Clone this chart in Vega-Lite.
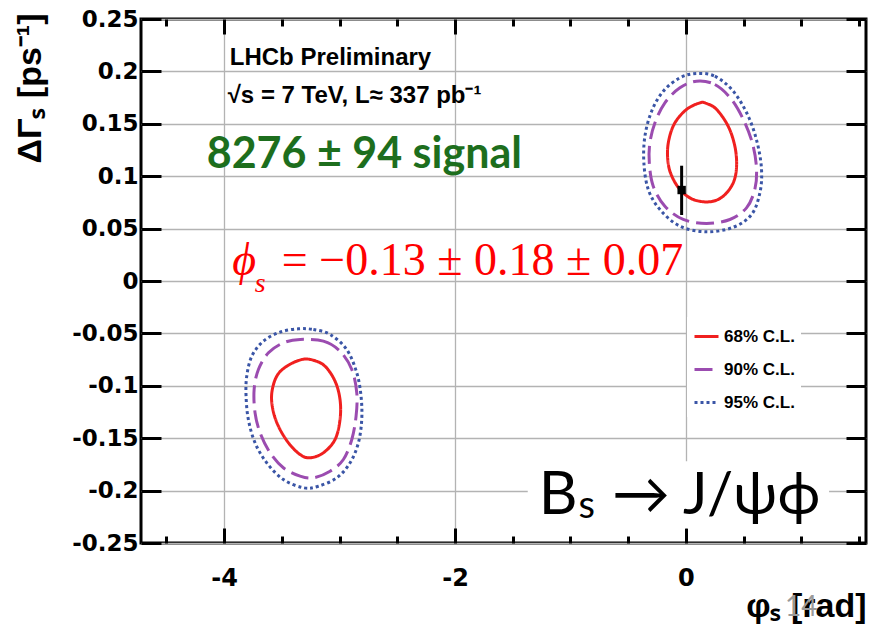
{
  "$schema": "https://vega.github.io/schema/vega-lite/v6.json",
  "width": 725,
  "height": 524,
  "autosize": {"type": "none"},
  "padding": {"left": 141, "top": 19, "right": 6, "bottom": 81},
  "background": "white",
  "config": {"view": {"stroke": "black", "strokeWidth": 3}},
  "datasets": {
    "contours": [
      {"c": "68u", "level": "68% C.L.", "o": 0, "phi": 0.121, "dG": 0.170},
      {"c": "68u", "level": "68% C.L.", "o": 1, "phi": 0.179, "dG": 0.1694},
      {"c": "68u", "level": "68% C.L.", "o": 2, "phi": 0.266, "dG": 0.1637},
      {"c": "68u", "level": "68% C.L.", "o": 3, "phi": 0.366, "dG": 0.1477},
      {"c": "68u", "level": "68% C.L.", "o": 4, "phi": 0.424, "dG": 0.1286},
      {"c": "68u", "level": "68% C.L.", "o": 5, "phi": 0.439, "dG": 0.1095},
      {"c": "68u", "level": "68% C.L.", "o": 6, "phi": 0.410, "dG": 0.0937},
      {"c": "68u", "level": "68% C.L.", "o": 7, "phi": 0.323, "dG": 0.0809},
      {"c": "68u", "level": "68% C.L.", "o": 8, "phi": 0.208, "dG": 0.0756},
      {"c": "68u", "level": "68% C.L.", "o": 9, "phi": 0.063, "dG": 0.0778},
      {"c": "68u", "level": "68% C.L.", "o": 10, "phi": -0.052, "dG": 0.0873},
      {"c": "68u", "level": "68% C.L.", "o": 11, "phi": -0.133, "dG": 0.103},
      {"c": "68u", "level": "68% C.L.", "o": 12, "phi": -0.159, "dG": 0.119},
      {"c": "68u", "level": "68% C.L.", "o": 13, "phi": -0.147, "dG": 0.135},
      {"c": "68u", "level": "68% C.L.", "o": 14, "phi": -0.095, "dG": 0.151},
      {"c": "68u", "level": "68% C.L.", "o": 15, "phi": 0.006, "dG": 0.1637},

      {"c": "90u", "level": "90% C.L.", "o": 0, "phi": 0.092, "dG": 0.1907},
      {"c": "90u", "level": "90% C.L.", "o": 1, "phi": 0.251, "dG": 0.1875},
      {"c": "90u", "level": "90% C.L.", "o": 2, "phi": 0.396, "dG": 0.1732},
      {"c": "90u", "level": "90% C.L.", "o": 3, "phi": 0.511, "dG": 0.151},
      {"c": "90u", "level": "90% C.L.", "o": 4, "phi": 0.583, "dG": 0.1286},
      {"c": "90u", "level": "90% C.L.", "o": 5, "phi": 0.612, "dG": 0.1064},
      {"c": "90u", "level": "90% C.L.", "o": 6, "phi": 0.597, "dG": 0.0873},
      {"c": "90u", "level": "90% C.L.", "o": 7, "phi": 0.525, "dG": 0.0698},
      {"c": "90u", "level": "90% C.L.", "o": 8, "phi": 0.381, "dG": 0.0587},
      {"c": "90u", "level": "90% C.L.", "o": 9, "phi": 0.179, "dG": 0.0549},
      {"c": "90u", "level": "90% C.L.", "o": 10, "phi": -0.023, "dG": 0.0587},
      {"c": "90u", "level": "90% C.L.", "o": 11, "phi": -0.182, "dG": 0.0714},
      {"c": "90u", "level": "90% C.L.", "o": 12, "phi": -0.283, "dG": 0.0905},
      {"c": "90u", "level": "90% C.L.", "o": 13, "phi": -0.317, "dG": 0.1128},
      {"c": "90u", "level": "90% C.L.", "o": 14, "phi": -0.312, "dG": 0.1319},
      {"c": "90u", "level": "90% C.L.", "o": 15, "phi": -0.268, "dG": 0.151},
      {"c": "90u", "level": "90% C.L.", "o": 16, "phi": -0.182, "dG": 0.170},
      {"c": "90u", "level": "90% C.L.", "o": 17, "phi": -0.052, "dG": 0.1843},

      {"c": "95u", "level": "95% C.L.", "o": 0, "phi": 0.092, "dG": 0.198},
      {"c": "95u", "level": "95% C.L.", "o": 1, "phi": 0.251, "dG": 0.1954},
      {"c": "95u", "level": "95% C.L.", "o": 2, "phi": 0.41, "dG": 0.1811},
      {"c": "95u", "level": "95% C.L.", "o": 3, "phi": 0.54, "dG": 0.1573},
      {"c": "95u", "level": "95% C.L.", "o": 4, "phi": 0.618, "dG": 0.1319},
      {"c": "95u", "level": "95% C.L.", "o": 5, "phi": 0.655, "dG": 0.1064},
      {"c": "95u", "level": "95% C.L.", "o": 6, "phi": 0.641, "dG": 0.0842},
      {"c": "95u", "level": "95% C.L.", "o": 7, "phi": 0.569, "dG": 0.0635},
      {"c": "95u", "level": "95% C.L.", "o": 8, "phi": 0.41, "dG": 0.0513},
      {"c": "95u", "level": "95% C.L.", "o": 9, "phi": 0.179, "dG": 0.0469},
      {"c": "95u", "level": "95% C.L.", "o": 10, "phi": -0.052, "dG": 0.0523},
      {"c": "95u", "level": "95% C.L.", "o": 11, "phi": -0.225, "dG": 0.0682},
      {"c": "95u", "level": "95% C.L.", "o": 12, "phi": -0.326, "dG": 0.0873},
      {"c": "95u", "level": "95% C.L.", "o": 13, "phi": -0.364, "dG": 0.1128},
      {"c": "95u", "level": "95% C.L.", "o": 14, "phi": -0.355, "dG": 0.1382},
      {"c": "95u", "level": "95% C.L.", "o": 15, "phi": -0.297, "dG": 0.162},
      {"c": "95u", "level": "95% C.L.", "o": 16, "phi": -0.196, "dG": 0.1811},
      {"c": "95u", "level": "95% C.L.", "o": 17, "phi": -0.052, "dG": 0.1939},

      {"c": "68l", "level": "68% C.L.", "o": 0, "phi": -3.327, "dG": -0.0749},
      {"c": "68l", "level": "68% C.L.", "o": 1, "phi": -3.227, "dG": -0.0756},
      {"c": "68l", "level": "68% C.L.", "o": 2, "phi": -3.126, "dG": -0.0813},
      {"c": "68l", "level": "68% C.L.", "o": 3, "phi": -3.039, "dG": -0.0956},
      {"c": "68l", "level": "68% C.L.", "o": 4, "phi": -2.996, "dG": -0.1131},
      {"c": "68l", "level": "68% C.L.", "o": 5, "phi": -2.996, "dG": -0.1322},
      {"c": "68l", "level": "68% C.L.", "o": 6, "phi": -3.039, "dG": -0.1512},
      {"c": "68l", "level": "68% C.L.", "o": 7, "phi": -3.140, "dG": -0.1639},
      {"c": "68l", "level": "68% C.L.", "o": 8, "phi": -3.255, "dG": -0.1687},
      {"c": "68l", "level": "68% C.L.", "o": 9, "phi": -3.342, "dG": -0.1656},
      {"c": "68l", "level": "68% C.L.", "o": 10, "phi": -3.443, "dG": -0.1544},
      {"c": "68l", "level": "68% C.L.", "o": 11, "phi": -3.530, "dG": -0.1385},
      {"c": "68l", "level": "68% C.L.", "o": 12, "phi": -3.578, "dG": -0.1226},
      {"c": "68l", "level": "68% C.L.", "o": 13, "phi": -3.587, "dG": -0.1067},
      {"c": "68l", "level": "68% C.L.", "o": 14, "phi": -3.544, "dG": -0.0908},
      {"c": "68l", "level": "68% C.L.", "o": 15, "phi": -3.457, "dG": -0.0813},

      {"c": "90l", "level": "90% C.L.", "o": 0, "phi": -3.342, "dG": -0.0558},
      {"c": "90l", "level": "90% C.L.", "o": 1, "phi": -3.140, "dG": -0.0574},
      {"c": "90l", "level": "90% C.L.", "o": 2, "phi": -2.996, "dG": -0.0670},
      {"c": "90l", "level": "90% C.L.", "o": 3, "phi": -2.894, "dG": -0.0844},
      {"c": "90l", "level": "90% C.L.", "o": 4, "phi": -2.851, "dG": -0.1067},
      {"c": "90l", "level": "90% C.L.", "o": 5, "phi": -2.857, "dG": -0.1290},
      {"c": "90l", "level": "90% C.L.", "o": 6, "phi": -2.894, "dG": -0.1512},
      {"c": "90l", "level": "90% C.L.", "o": 7, "phi": -2.967, "dG": -0.1703},
      {"c": "90l", "level": "90% C.L.", "o": 8, "phi": -3.082, "dG": -0.1815},
      {"c": "90l", "level": "90% C.L.", "o": 9, "phi": -3.227, "dG": -0.1878},
      {"c": "90l", "level": "90% C.L.", "o": 10, "phi": -3.342, "dG": -0.1862},
      {"c": "90l", "level": "90% C.L.", "o": 11, "phi": -3.487, "dG": -0.1782},
      {"c": "90l", "level": "90% C.L.", "o": 12, "phi": -3.602, "dG": -0.1639},
      {"c": "90l", "level": "90% C.L.", "o": 13, "phi": -3.688, "dG": -0.1449},
      {"c": "90l", "level": "90% C.L.", "o": 14, "phi": -3.732, "dG": -0.1258},
      {"c": "90l", "level": "90% C.L.", "o": 15, "phi": -3.740, "dG": -0.1035},
      {"c": "90l", "level": "90% C.L.", "o": 16, "phi": -3.703, "dG": -0.0844},
      {"c": "90l", "level": "90% C.L.", "o": 17, "phi": -3.616, "dG": -0.0685},
      {"c": "90l", "level": "90% C.L.", "o": 18, "phi": -3.487, "dG": -0.0590},

      {"c": "95l", "level": "95% C.L.", "o": 0, "phi": -3.357, "dG": -0.0456},
      {"c": "95l", "level": "95% C.L.", "o": 1, "phi": -3.227, "dG": -0.0463},
      {"c": "95l", "level": "95% C.L.", "o": 2, "phi": -3.082, "dG": -0.0510},
      {"c": "95l", "level": "95% C.L.", "o": 3, "phi": -2.938, "dG": -0.0654},
      {"c": "95l", "level": "95% C.L.", "o": 4, "phi": -2.851, "dG": -0.0876},
      {"c": "95l", "level": "95% C.L.", "o": 5, "phi": -2.814, "dG": -0.1099},
      {"c": "95l", "level": "95% C.L.", "o": 6, "phi": -2.808, "dG": -0.1322},
      {"c": "95l", "level": "95% C.L.", "o": 7, "phi": -2.837, "dG": -0.1544},
      {"c": "95l", "level": "95% C.L.", "o": 8, "phi": -2.909, "dG": -0.1735},
      {"c": "95l", "level": "95% C.L.", "o": 9, "phi": -3.024, "dG": -0.1878},
      {"c": "95l", "level": "95% C.L.", "o": 10, "phi": -3.184, "dG": -0.1958},
      {"c": "95l", "level": "95% C.L.", "o": 11, "phi": -3.313, "dG": -0.1973},
      {"c": "95l", "level": "95% C.L.", "o": 12, "phi": -3.487, "dG": -0.1894},
      {"c": "95l", "level": "95% C.L.", "o": 13, "phi": -3.631, "dG": -0.1735},
      {"c": "95l", "level": "95% C.L.", "o": 14, "phi": -3.732, "dG": -0.1544},
      {"c": "95l", "level": "95% C.L.", "o": 15, "phi": -3.790, "dG": -0.1322},
      {"c": "95l", "level": "95% C.L.", "o": 16, "phi": -3.810, "dG": -0.1099},
      {"c": "95l", "level": "95% C.L.", "o": 17, "phi": -3.804, "dG": -0.0908},
      {"c": "95l", "level": "95% C.L.", "o": 18, "phi": -3.760, "dG": -0.0717},
      {"c": "95l", "level": "95% C.L.", "o": 19, "phi": -3.660, "dG": -0.0574},
      {"c": "95l", "level": "95% C.L.", "o": 20, "phi": -3.515, "dG": -0.0488}
    ]
  },
  "resolve": {"axis": {"x": "independent", "y": "independent"}},
  "layer": [
    {
      "data": {"values": [{"x1": -1.37, "x2": 1.24, "y1": -0.172, "y2": -0.236}]},
      "mark": {"type": "rect", "fill": "white"},
      "encoding": {
        "x": {
          "field": "x1", "type": "quantitative", "scale": {"domain": [-4.72, 1.56], "nice": false, "zero": false},
          "axis": {"orient": "bottom", "offset": -7, "values": [-4.5, -3.5, -3, -2.5, -1.5, -1, -0.5, 0.5, 1, 1.5],
                   "labels": false, "grid": false, "title": null, "domain": false,
                   "tickSize": 7, "tickWidth": 3, "tickColor": "black"}
        },
        "x2": {"field": "x2"},
        "y": {"field": "y1", "type": "quantitative", "scale": {"domain": [-0.25, 0.25], "nice": false, "zero": false}, "axis": null},
        "y2": {"field": "y2"}
      }
    },
    {
      "data": {"name": "contours"},
      "mark": {"type": "line", "interpolate": "cardinal-closed", "strokeWidth": 3},
      "encoding": {
        "x": {
          "field": "phi", "type": "quantitative",
          "scale": {"domain": [-4.72, 1.56], "nice": false, "zero": false},
          "axis": {
            "orient": "bottom", "values": [-4, -2, 0], "labelExpr": "'' + datum.value",
            "labelFont": "DejaVu Sans", "labelFontWeight": "bold", "labelFontSize": 24, "labelColor": "black",
            "labelPadding": 23, "labelFlush": false, "labelOverlap": false,
            "ticks": false, "domain": false,
            "grid": true, "gridColor": "#b3b3b3", "gridWidth": 1.3,
            "title": "φₛ [rad]", "titleFont": "Liberation Sans", "titleFontWeight": "bold", "titleFontSize": 34, "titleColor": "black",
            "titleAnchor": "end", "titleAlign": "right", "titleBaseline": "alphabetic", "titleAngle": 0, "titleX": 725, "titleY": 73
          }
        },
        "y": {
          "field": "dG", "type": "quantitative",
          "scale": {"domain": [-0.25, 0.25], "nice": false, "zero": false},
          "axis": {
            "orient": "left", "values": [-0.25, -0.2, -0.15, -0.1, -0.05, 0, 0.05, 0.1, 0.15, 0.2, 0.25],
            "labelExpr": "'' + datum.value",
            "labelFont": "DejaVu Sans", "labelFontWeight": "bold", "labelFontSize": 23, "labelColor": "black",
            "labelPadding": 3, "labelOverlap": false, "labelFlush": false,
            "ticks": false, "domain": false,
            "grid": true, "gridColor": "#b3b3b3", "gridWidth": 1.3,
            "title": "ΔΓₛ [ps⁻¹]", "titleFont": "Liberation Sans", "titleFontWeight": "bold", "titleFontSize": 34, "titleColor": "black",
            "titleAnchor": "end", "titleAlign": "right", "titleBaseline": "middle", "titleAngle": 270, "titleX": -111, "titleY": -6
          }
        },
        "order": {"field": "o", "type": "quantitative"},
        "detail": {"field": "c", "type": "nominal"},
        "color": {
          "field": "level", "type": "nominal",
          "scale": {"domain": ["68% C.L.", "90% C.L.", "95% C.L."], "range": ["#f0201f", "#9b4cb0", "#3a55a6"]},
          "legend": {
            "orient": "none", "legendX": 546, "legendY": 298, "title": null,
            "fillColor": "white", "padding": 6, "symbolType": "stroke", "symbolSize": 576, "symbolStrokeWidth": 3,
            "labelFont": "Liberation Sans", "labelFontWeight": "bold", "labelFontSize": 17, "labelColor": "black",
            "labelOffset": 4, "rowPadding": 11
          }
        },
        "strokeDash": {
          "field": "level", "type": "nominal",
          "scale": {"domain": ["68% C.L.", "90% C.L.", "95% C.L."], "range": [[1, 0], [18, 7], [3, 3]]},
          "legend": {
            "orient": "none", "legendX": 546, "legendY": 298, "title": null,
            "fillColor": "white", "padding": 6, "symbolType": "stroke", "symbolSize": 576, "symbolStrokeWidth": 3,
            "labelFont": "Liberation Sans", "labelFontWeight": "bold", "labelFontSize": 17, "labelColor": "black",
            "labelOffset": 4, "rowPadding": 11
          }
        }
      }
    },
    {
      "data": {"values": [{"phi": -0.037, "lo": 0.063, "hi": 0.110}]},
      "mark": {"type": "rule", "color": "black", "strokeWidth": 3},
      "encoding": {
        "x": {
          "field": "phi", "type": "quantitative", "scale": {"domain": [-4.72, 1.56], "nice": false, "zero": false},
          "axis": {"orient": "top", "offset": -15, "values": [-4, -2, 0], "labels": false, "grid": false, "title": null, "domain": false,
                   "tickSize": 15, "tickWidth": 3, "tickColor": "black"}
        },
        "y": {
          "field": "lo", "type": "quantitative", "scale": {"domain": [-0.25, 0.25], "nice": false, "zero": false},
          "axis": {"orient": "right", "offset": -20, "values": [-0.25, -0.2, -0.15, -0.1, -0.05, 0, 0.05, 0.1, 0.15, 0.2, 0.25],
                   "labels": false, "grid": false, "title": null, "domain": false,
                   "tickSize": 20, "tickWidth": 3, "tickColor": "black"}
        },
        "y2": {"field": "hi"}
      }
    },
    {
      "data": {"values": [{"phi": -0.037, "dG": 0.0868}]},
      "mark": {"type": "square", "color": "black", "filled": true, "size": 70, "opacity": 1},
      "encoding": {
        "x": {
          "field": "phi", "type": "quantitative", "scale": {"domain": [-4.72, 1.56], "nice": false, "zero": false},
          "axis": {"orient": "bottom", "offset": -15, "values": [-4, -2, 0], "labels": false, "grid": false, "title": null, "domain": false,
                   "tickSize": 15, "tickWidth": 3, "tickColor": "black"}
        },
        "y": {
          "field": "dG", "type": "quantitative", "scale": {"domain": [-0.25, 0.25], "nice": false, "zero": false},
          "axis": {"orient": "left", "offset": -20, "values": [-0.25, -0.2, -0.15, -0.1, -0.05, 0, 0.05, 0.1, 0.15, 0.2, 0.25],
                   "labels": false, "grid": false, "title": null, "domain": false,
                   "tickSize": 20, "tickWidth": 3, "tickColor": "black"}
        }
      }
    },
    {
      "data": {"values": [{"phi": -3.951, "dG": 0.2061, "label": "LHCb Preliminary"}]},
      "mark": {"type": "text", "align": "left", "baseline": "alphabetic", "font": "Liberation Sans", "fontWeight": "bold", "fontSize": 24, "color": "black"},
      "encoding": {
        "x": {
          "field": "phi", "type": "quantitative", "scale": {"domain": [-4.72, 1.56], "nice": false, "zero": false},
          "axis": {"orient": "top", "offset": -7, "values": [-4.5, -3.5, -3, -2.5, -1.5, -1, -0.5, 0.5, 1, 1.5],
                   "labels": false, "grid": false, "title": null, "domain": false,
                   "tickSize": 7, "tickWidth": 3, "tickColor": "black"}
        },
        "y": {"field": "dG", "type": "quantitative", "scale": {"domain": [-0.25, 0.25], "nice": false, "zero": false}, "axis": null},
        "text": {"field": "label"}
      }
    },
    {
      "data": {"values": [{"phi": -3.969, "dG": 0.170, "label": "√s = 7 TeV, L≈ 337 pb⁻¹"}]},
      "mark": {"type": "text", "align": "left", "baseline": "alphabetic", "font": "Liberation Sans", "fontWeight": "bold", "fontSize": 24, "color": "black"},
      "encoding": {
        "x": {"field": "phi", "type": "quantitative", "axis": null},
        "y": {"field": "dG", "type": "quantitative", "axis": null},
        "text": {"field": "label"}
      }
    },
    {
      "data": {"values": [{"phi": -4.151, "dG": 0.1075, "label": "8276 ± 94 signal"}]},
      "mark": {"type": "text", "align": "left", "baseline": "alphabetic", "font": "Lato", "fontWeight": "bold", "fontSize": 43, "color": "#1d6e1d"},
      "encoding": {
        "x": {"field": "phi", "type": "quantitative", "axis": null},
        "y": {"field": "dG", "type": "quantitative", "axis": null},
        "text": {"field": "label"}
      }
    },
    {
      "data": {"values": [{"phi": -3.93, "dG": 0.0057, "label": "ϕ"}]},
      "mark": {"type": "text", "align": "left", "baseline": "alphabetic", "font": "Liberation Serif", "fontStyle": "italic", "fontSize": 46, "color": "#ff0000"},
      "encoding": {
        "x": {"field": "phi", "type": "quantitative", "axis": null},
        "y": {"field": "dG", "type": "quantitative", "axis": null},
        "text": {"field": "label"}
      }
    },
    {
      "data": {"values": [{"phi": -3.735, "dG": -0.0105, "label": "s"}]},
      "mark": {"type": "text", "align": "left", "baseline": "alphabetic", "font": "Liberation Serif", "fontStyle": "italic", "fontSize": 28, "color": "#ff0000"},
      "encoding": {
        "x": {"field": "phi", "type": "quantitative", "axis": null},
        "y": {"field": "dG", "type": "quantitative", "axis": null},
        "text": {"field": "label"}
      }
    },
    {
      "data": {"values": [{"phi": -3.50, "dG": 0.0057, "label": "= −0.13 ± 0.18 ± 0.07"}]},
      "mark": {"type": "text", "align": "left", "baseline": "alphabetic", "font": "Liberation Serif", "fontSize": 46, "color": "#ff0000"},
      "encoding": {
        "x": {"field": "phi", "type": "quantitative", "axis": null},
        "y": {"field": "dG", "type": "quantitative", "axis": null},
        "text": {"field": "label"}
      }
    },
    {
      "data": {"values": [{"phi": -1.274, "dG": -0.2223, "label": "B"}]},
      "mark": {"type": "text", "align": "left", "baseline": "alphabetic", "font": "Lato", "fontSize": 60, "color": "black"},
      "encoding": {
        "x": {"field": "phi", "type": "quantitative", "axis": null},
        "y": {"field": "dG", "type": "quantitative", "axis": null},
        "text": {"field": "label"}
      }
    },
    {
      "data": {"values": [{"phi": -0.641, "dG": -0.2223, "label": "→ J/ψϕ"}]},
      "mark": {"type": "text", "align": "left", "baseline": "alphabetic", "font": "Lato", "fontSize": 58, "color": "black"},
      "encoding": {
        "x": {"field": "phi", "type": "quantitative", "axis": null},
        "y": {"field": "dG", "type": "quantitative", "axis": null},
        "text": {"field": "label"}
      }
    },
    {
      "data": {"values": [{"phi": -0.93, "dG": -0.2257, "label": "s"}]},
      "mark": {"type": "text", "align": "left", "baseline": "alphabetic", "font": "Lato", "fontSize": 38, "color": "black"},
      "encoding": {
        "x": {"field": "phi", "type": "quantitative", "axis": null},
        "y": {"field": "dG", "type": "quantitative", "axis": null},
        "text": {"field": "label"}
      }
    },
    {
      "data": {"values": [{"phi": 0.858, "dG": -0.3197, "label": "14"}]},
      "mark": {"type": "text", "align": "left", "baseline": "alphabetic", "font": "Lato", "fontSize": 28, "color": "#9a9a9a"},
      "encoding": {
        "x": {"field": "phi", "type": "quantitative", "axis": null},
        "y": {"field": "dG", "type": "quantitative", "axis": null},
        "text": {"field": "label"}
      }
    }
  ]
}
